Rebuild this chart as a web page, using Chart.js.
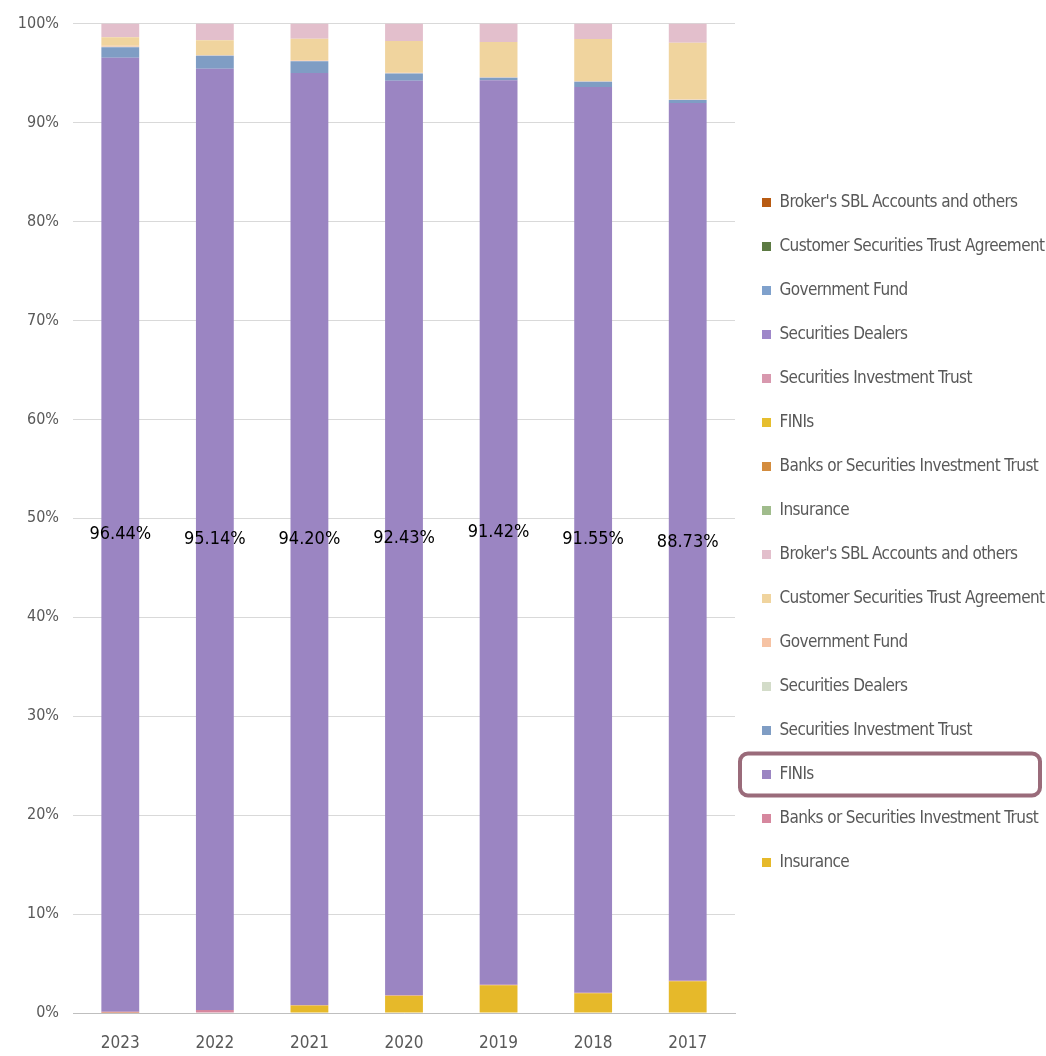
<!DOCTYPE html>
<html>
<head>
<meta charset="utf-8">
<script src="https://cdn.jsdelivr.net/npm/chart.js@4.4.1/dist/chart.umd.min.js"></script>
<style>
  body { margin: 0; background: #fff; }
  #wrap { width: 1046px; height: 1056px; }
</style>
</head>
<body>
<div id="wrap"><canvas id="chart" width="1046" height="1056"></canvas></div>
<script>
// categories
const years = ['2023', '2022', '2021', '2020', '2019', '2018', '2017'];

// share of each holder group (%), bottom of the stack first
const insurance   = [0.02, 0.05, 0.75, 1.75, 2.80, 2.00, 3.20];
const banks       = [0.10, 0.25, 0.05, 0.05, 0.05, 0.05, 0.05];
const finis       = [96.44, 95.14, 94.20, 92.43, 91.42, 91.55, 88.73];
const sit         = [1.05, 1.30, 1.20, 0.72, 0.25, 0.52, 0.30];
const secDealers  = [0.05, 0.03, 0.03, 0.03, 0.03, 0.03, 0.03];
const govFund     = [0.10, 0.05, 0.05, 0.05, 0.05, 0.05, 0.05];
const custTrust   = [0.85, 1.50, 2.20, 3.20, 3.55, 4.25, 5.70];
const brokerSbl   = [1.39, 1.68, 1.52, 1.77, 1.85, 1.55, 1.94];
// second group of series shows only in the legend
const emptySeries = [0, 0, 0, 0, 0, 0, 0];

const yTicks = [0, 10, 20, 30, 40, 50, 60, 70, 80, 90, 100];

const FONT = "'Liberation Sans Narrow', 'DejaVu Sans Condensed', 'Roboto', sans-serif";
const GREY = '#595959';
const LEGEND_WIDTH = 311;

function ds(label, data, color) {
    return { label: label, data: data, backgroundColor: color, borderWidth: 0,
             barPercentage: 0.4, categoryPercentage: 1.0, stack: 's' };
}

const datasets = [
    ds('Insurance', insurance, '#E6B92A'),
    ds('Banks or Securities Investment Trust', banks, '#D6879E'),
    ds('FINIs', finis, '#9B85C2'),
    ds('Securities Investment Trust', sit, '#7F9DC4'),
    ds('Securities Dealers', secDealers, '#D3DCC9'),
    ds('Government Fund', govFund, '#F6C3A4'),
    ds('Customer Securities Trust Agreement', custTrust, '#F0D49E'),
    ds("Broker's SBL Accounts and others", brokerSbl, '#E3BFCC'),
    ds('Insurance', emptySeries, '#A0BC8C'),
    ds('Banks or Securities Investment Trust', emptySeries, '#D38C3E'),
    ds('FINIs', emptySeries, '#E6BE2E'),
    ds('Securities Investment Trust', emptySeries, '#D898AE'),
    ds('Securities Dealers', emptySeries, '#9E87C9'),
    ds('Government Fund', emptySeries, '#7FA1CC'),
    ds('Customer Securities Trust Agreement', emptySeries, '#5C7A43'),
    ds("Broker's SBL Accounts and others", emptySeries, '#B85B12')
];

// legend is wider than Chart.js allows for a side box, so force its width,
// and tighten its letters a bit (the original uses a condensed face)
const wideLegend = {
    id: 'wideLegend',
    afterInit(chart) {
        const legend = chart.legend;
        const fit = legend.fit;
        const draw = legend.draw;
        legend.fit = function () {
            this.ctx.save();
            this.ctx.letterSpacing = '-0.6px';
            fit.call(this);
            this.ctx.restore();
            this.width = LEGEND_WIDTH;
        };
        legend.draw = function () {
            this.ctx.save();
            this.ctx.letterSpacing = '-0.6px';
            draw.call(this);
            this.ctx.restore();
        };
    }
};

// FINIs value labels in the middle of the purple segment
const finiLabels = {
    id: 'finiLabels',
    afterDatasetsDraw(chart) {
        const ctx = chart.ctx;
        const meta = chart.getDatasetMeta(2);
        ctx.save();
        ctx.font = '18px ' + FONT;
        ctx.fillStyle = '#000';
        ctx.textAlign = 'center';
        ctx.textBaseline = 'middle';
        meta.data.forEach((bar, i) => {
            ctx.fillText(finis[i].toFixed(2) + '%', bar.x, (bar.y + bar.base) / 2);
        });
        ctx.restore();
    }
};

// rounded frame around the highlighted FINIs legend entry
const legendFrame = {
    id: 'legendFrame',
    afterDraw(chart) {
        const legend = chart.legend;
        if (!legend || !legend.legendHitBoxes) return;
        const hb = legend.legendHitBoxes[13];
        const ctx = chart.ctx;
        const cy = hb.top + hb.height / 2;
        ctx.save();
        ctx.strokeStyle = '#9A6B7A';
        ctx.lineWidth = 4;
        ctx.beginPath();
        ctx.roundRect(hb.left - 22, cy - 21, 300, 42, 8);
        ctx.stroke();
        ctx.restore();
    }
};

new Chart(document.getElementById('chart'), {
    type: 'bar',
    data: { labels: years, datasets: datasets },
    options: {
        responsive: false,
        animation: false,
        layout: { padding: { top: 9, bottom: 0, left: 0, right: 0 } },
        plugins: {
            tooltip: { enabled: false },
            legend: {
                position: 'right',
                reverse: true,
                labels: {
                    boxWidth: 9,
                    boxHeight: 9,
                    padding: 27,
                    color: GREY,
                    font: { family: FONT, size: 17 }
                }
            }
        },
        scales: {
            x: {
                stacked: true,
                grid: { display: false, drawTicks: false },
                border: { display: true, color: '#BFBFBF' },
                ticks: { color: GREY, padding: 20, font: { family: FONT, size: 17 } },
                afterFit(axis) { axis.height = 43; }
            },
            y: {
                stacked: true,
                min: 0,
                max: 100,
                afterBuildTicks(axis) { axis.ticks = yTicks.map(v => ({ value: v })); },
                afterFit(axis) { axis.width = 73; },
                grid: { color: '#D9D9D9', drawTicks: false },
                border: { display: false },
                ticks: {
                    color: GREY,
                    padding: 14,
                    font: { family: FONT, size: 16 },
                    callback: v => v + '%'
                }
            }
        }
    },
    plugins: [wideLegend, finiLabels, legendFrame]
});
</script>
</body>
</html>
